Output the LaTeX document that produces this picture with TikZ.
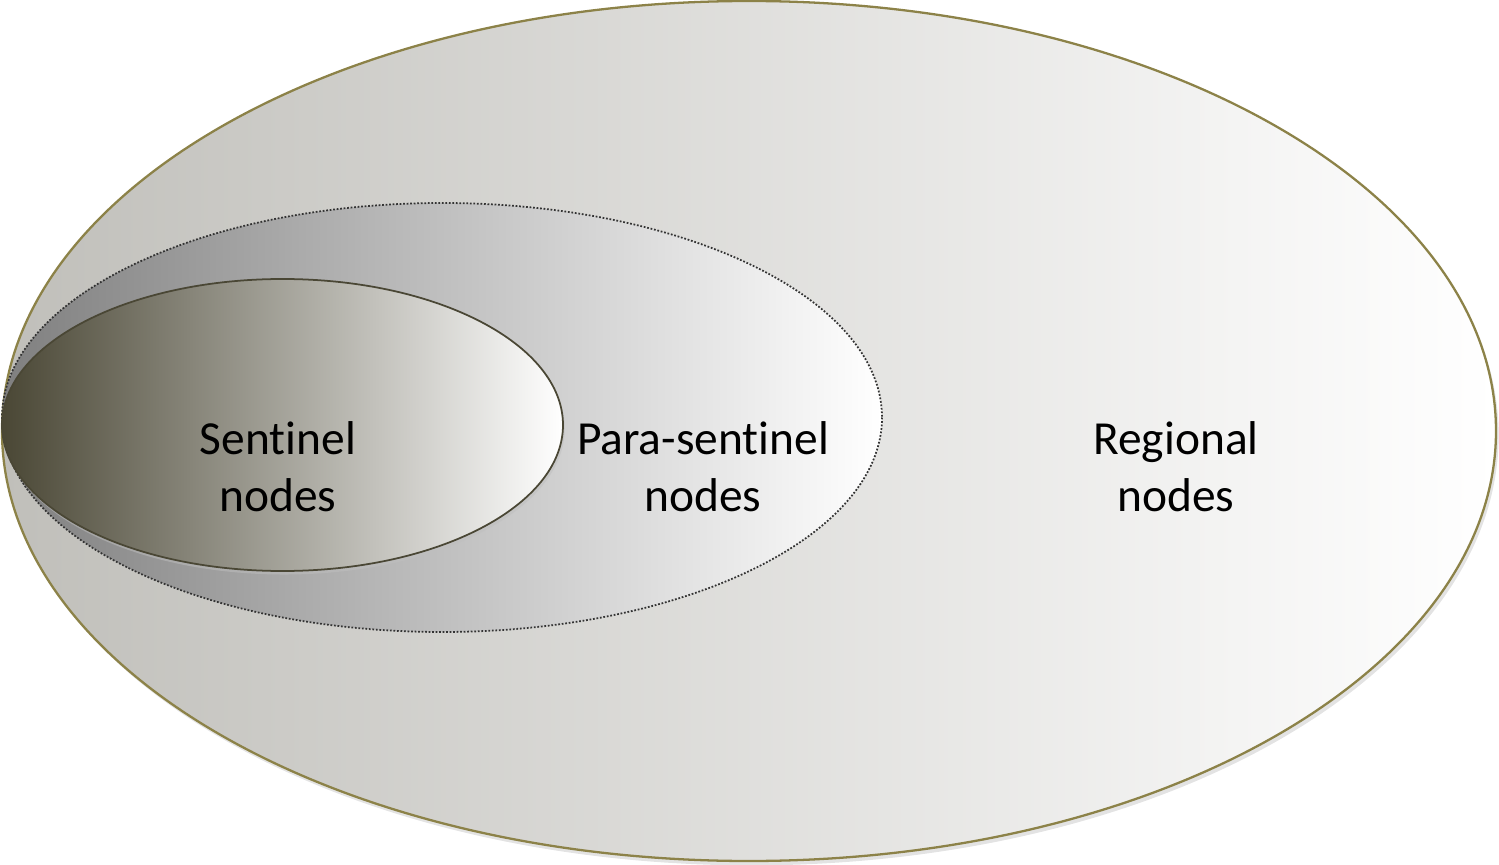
\documentclass[tikz,border=0pt]{standalone}
\usepackage{fontspec}
\setmainfont{Carlito}[RawFeature={-liga}]
\usetikzlibrary{shadows}
\definecolor{olivegold}{HTML}{8C8248}
\definecolor{darkolive}{HTML}{4A4735}
\definecolor{warmgray}{HTML}{C0BFBA}
\begin{document}
\begin{tikzpicture}
		[x=0.02cm,y=-0.02cm,
		 region/.style={draw=olivegold,line width=1.3pt,left color=warmgray,right color=white,
		   drop shadow={shadow xshift=1.5pt,shadow yshift=-2.5pt,fill=black!18,opacity=0.6}},
		 parazone/.style={draw=black!80,densely dotted,line width=1pt,left color=black!50,right color=white},
		 sentzone/.style={draw=darkolive,line width=1pt,left color=darkolive,right color=white,
		   drop shadow={shadow xshift=1pt,shadow yshift=-2pt,fill=black!25,opacity=0.5}},
		 label/.style={font=\fontsize{27pt}{32.4pt}\selectfont,align=center,text=black}]
		\useasboundingbox (0,0) rectangle (1499,865);

		% the three nested areas, all touching at the left
		\draw [region] (749,431) ellipse [x radius=747,y radius=430];
		\draw [parazone] (442,417.5) ellipse [x radius=440,y radius=214.5];
		\draw [sentzone] (282.5,425) ellipse [x radius=280.5,y radius=146];

		% the labels
		\node [label] (sentinel) at (278,467) {Sentinel\\nodes};
		\node [label] (parasentinel) at (703,467) {Para-sentinel\\nodes};
		\node [label] (regional) at (1176,467) {Regional\\nodes};
	\end{tikzpicture}
\end{document}
